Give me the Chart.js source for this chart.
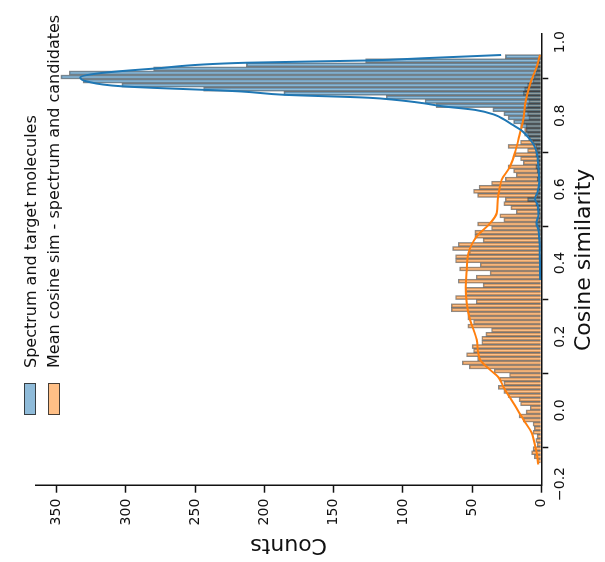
<!DOCTYPE html>
<html>
<head>
<meta charset="utf-8">
<script src="https://cdn.jsdelivr.net/npm/chart.js@4.4.0/dist/chart.umd.min.js"></script>
<style>
  html, body { margin: 0; padding: 0; background: #fff; overflow: hidden; }
  /* the figure is laid out upright, then turned a quarter turn */
  #wrap {
    position: absolute; left: 0; top: 0;
    width: 562px; height: 605px;
    transform-origin: 0 0;
    transform: translate(0, 562px) rotate(-90deg);
  }
  #plot { position: absolute; left: 0; top: 0; }
  .legend {
    position: absolute; left: 147px; top: 24px;
    font-family: 'DejaVu Sans', sans-serif; font-size: 16px; color: #111;
  }
  .legend .row { display: flex; align-items: center; height: 12px; margin-bottom: 11.5px; white-space: nowrap; }
  .legend .swatch { width: 30px; height: 10px; border: 1px solid rgba(40,40,40,0.85); margin-right: 15px; }
</style>
</head>
<body>
<div id="wrap">
  <canvas id="plot" width="562" height="605"></canvas>
  <div class="legend" id="legend"></div>
</div>
<script>
// histogram bins (common to both groups)
const binStart = -0.1428;
const binWidth = 0.01109;

// counts per bin, lowest bin first
const targetCounts = [
  0, 0, 0, 0, 0, 0, 0, 0, 0, 0,
  0, 0, 0, 0, 0, 0, 0, 0, 0, 0,
  0, 0, 0, 0, 0, 0, 0, 0, 0, 0,
  0, 0, 0, 0, 0, 0, 0, 0, 0, 0,
  0, 0, 0, 0, 0, 1, 0, 1, 0, 1,
  1, 0, 1, 1, 1, 2, 1, 2, 4, 2,
  1, 2, 3, 4, 10, 3, 2, 2, 1, 3,
  2, 3, 4, 2, 3, 4, 3, 4, 6, 9,
  12, 11, 15, 20, 24, 27, 35, 76, 84, 112,
  186, 244, 303, 331, 347, 341, 280, 213, 127, 26
];
const candidateCounts = [
  3, 5, 7, 6, 3, 4, 3, 6, 5, 6,
  13, 16, 11, 8, 15, 16, 24, 27, 31, 27,
  30, 23, 34, 52, 57, 46, 54, 49, 50, 43,
  43, 40, 36, 53, 49, 53, 53, 65, 65, 47,
  62, 55, 55, 42, 60, 47, 37, 59, 44, 62,
  62, 52, 64, 60, 42, 48, 48, 36, 46, 27,
  30, 18, 22, 27, 26, 46, 49, 45, 36, 26,
  18, 20, 24, 13, 15, 19, 10, 24, 15, 9,
  10, 12, 11, 13, 9, 10, 12, 10, 9, 11,
  13, 12, 10, 6, 5, 4, 3, 3, 2, 1
];

// density curves, read as (cosine, counts) pairs
const targetKdeX = [0.354, 0.40, 0.45, 0.49, 0.51, 0.53, 0.555, 0.575, 0.595, 0.62, 0.65, 0.68, 0.70, 0.718,
  0.735, 0.748, 0.762, 0.776, 0.79, 0.803, 0.816, 0.826, 0.834, 0.843, 0.849, 0.857, 0.866, 0.88, 0.893, 0.904,
  0.916, 0.928, 0.944, 0.950, 0.957, 0.965];
const targetKdeY = [0.8, 1.0, 1.2, 2.0, 3.5, 2.0, 2.5, 4.5, 2.5, 1.5, 1.8, 2.5, 3.3, 5,
  8, 11, 15, 21, 27, 34, 48, 72, 85, 105, 125, 186, 217, 303, 328, 333,
  318, 280, 213, 127, 80, 29];
const candidateKdeX = [-0.147, -0.116, -0.08, -0.061, -0.025, 0.02, 0.065, 0.09, 0.11, 0.138, 0.192, 0.246,
  0.291, 0.336, 0.382, 0.427, 0.472, 0.508, 0.536, 0.572, 0.608, 0.626, 0.662, 0.716, 0.753, 0.789, 0.83,
  0.885, 0.933, 0.965];
const candidateKdeY = [2.2, 3.3, 5.5, 6.9, 13, 20.2, 27.5, 31, 37, 44.3, 46.7, 51.5,
  53.9, 54.6, 53.9, 52.7, 46.7, 37, 32.2, 31.5, 29.8, 28.6, 22.6, 17.8, 15.4, 13, 11.8,
  8.2, 3.3, 1];

const seriesLabels = ['Spectrum and target molecules', 'Mean cosine sim - spectrum and candidates'];
const cosTicks = [-0.2, 0.0, 0.2, 0.4, 0.6, 0.8, 1.0];
const countTicks = [0, 50, 100, 150, 200, 250, 300, 350];

const blueFill = 'rgba(31,119,180,0.5)';
const orangeFill = 'rgba(255,127,14,0.5)';
const barEdge = 'rgba(40,40,40,0.55)';
const ink = '#111';

Chart.defaults.font.family = "'DejaVu Sans', sans-serif";
Chart.defaults.color = ink;

function binPoints(counts) {
  return counts.map((c, i) => ({ x: binStart + (i + 0.5) * binWidth, y: c > 0 ? c : null }));
}
function curvePoints(xs, ys) {
  return xs.map((x, i) => ({ x: x, y: ys[i] }));
}

// legend kept as plain html inside the figure
const legendEl = document.getElementById('legend');
[blueFill, orangeFill].forEach((fill, i) => {
  const row = document.createElement('div');
  row.className = 'row';
  row.innerHTML = '<div class="swatch" style="background:' + fill + '"></div><span>' + seriesLabels[i] + '</span>';
  legendEl.appendChild(row);
});

const ctx = document.getElementById('plot').getContext('2d');
new Chart(ctx, {
  type: 'bar',
  data: {
    datasets: [
      {
        type: 'line', label: seriesLabels[0] + ' kde',
        data: curvePoints(targetKdeX, targetKdeY),
        borderColor: '#1f77b4', borderWidth: 2, pointRadius: 0,
        cubicInterpolationMode: 'monotone', order: 0
      },
      {
        type: 'line', label: seriesLabels[1] + ' kde',
        data: curvePoints(candidateKdeX, candidateKdeY),
        borderColor: '#ff7f0e', borderWidth: 2, pointRadius: 0,
        cubicInterpolationMode: 'monotone', order: 0
      },
      {
        label: seriesLabels[0],
        data: binPoints(targetCounts),
        backgroundColor: blueFill, borderColor: barEdge, borderWidth: 1,
        grouped: false, barPercentage: 1, categoryPercentage: 1, order: 1
      },
      {
        label: seriesLabels[1],
        data: binPoints(candidateCounts),
        backgroundColor: orangeFill, borderColor: barEdge, borderWidth: 1,
        grouped: false, barPercentage: 1, categoryPercentage: 1, order: 2
      }
    ]
  },
  options: {
    responsive: false,
    animation: false,
    devicePixelRatio: 1,
    layout: { padding: { left: 0, right: 34, top: 36, bottom: 0 } },
    plugins: { legend: { display: false }, tooltip: { enabled: false } },
    scales: {
      x: {
        type: 'linear', min: -0.2046, max: 1.022, offset: false,
        afterBuildTicks: s => { s.ticks = cosTicks.map(v => ({ value: v })); },
        afterFit: s => { s.height = 63.7; },
        ticks: {
          font: { size: 14 }, color: ink, padding: 4, maxRotation: 0,
          callback: v => (v < 0 ? '\u2212' : '') + Math.abs(v).toFixed(1)
        },
        grid: { drawOnChartArea: false, tickLength: 7, tickWidth: 1.5, tickColor: ink },
        border: { color: ink, width: 1.5 },
        title: { display: true, text: 'Cosine similarity', font: { size: 22 }, color: ink, padding: { top: 0, bottom: 8 } }
      },
      y: {
        min: 0, max: 365,
        afterBuildTicks: s => { s.ticks = countTicks.map(v => ({ value: v })); },
        afterFit: s => { s.width = 76.3; },
        ticks: { font: { size: 14 }, color: ink, padding: 6 },
        grid: { drawOnChartArea: false, tickLength: 7, tickWidth: 1.5, tickColor: ink },
        border: { color: ink, width: 1.5 },
        title: { display: true, text: 'Counts', font: { size: 22 }, color: ink, padding: 4 }
      }
    }
  }
});
</script>
</body>
</html>
